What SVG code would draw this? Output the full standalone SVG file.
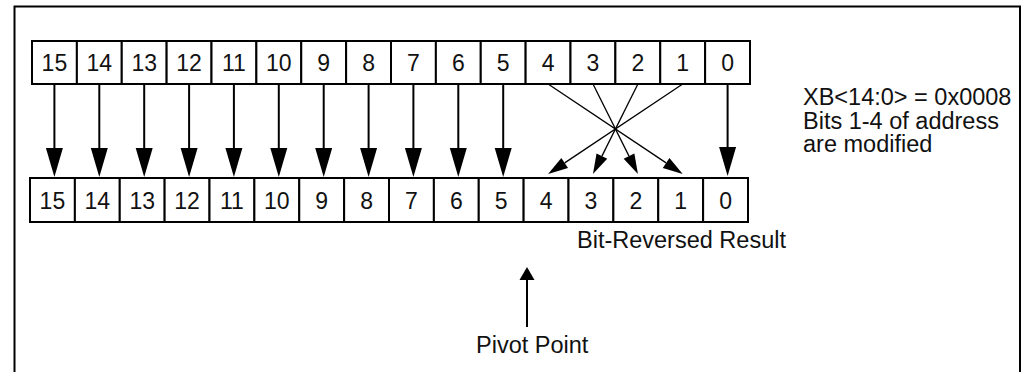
<svg xmlns="http://www.w3.org/2000/svg" width="1024" height="372" viewBox="0 0 1024 372">
<style>
.box{fill:#fff;stroke:#000;stroke-width:2}
.num{font-family:"Liberation Sans",Arial,sans-serif;font-size:23px;text-anchor:middle;fill:#111}
.lbl{font-family:"Liberation Sans",Arial,sans-serif;font-size:23.5px;fill:#111}
.thick{stroke:#000;stroke-width:2;fill:none}
.thin{stroke:#000;stroke-width:1.3;fill:none}
</style>
<defs>
<marker id="big" markerUnits="userSpaceOnUse" markerWidth="29" markerHeight="17" refX="0" refY="8.5" orient="auto" overflow="visible">
<path d="M0,0 L29,8.5 L0,17 Z" fill="#000"/>
</marker>
<marker id="small" markerUnits="userSpaceOnUse" markerWidth="20" markerHeight="12" refX="0" refY="6" orient="auto" overflow="visible">
<path d="M0,0 L20,6 L0,12 Z" fill="#000"/>
</marker>
<marker id="piv" markerUnits="userSpaceOnUse" markerWidth="13" markerHeight="15" refX="0" refY="7.5" orient="auto" overflow="visible">
<path d="M0,0 L13,7.5 L0,15 Z" fill="#000"/>
</marker>
</defs>
<rect id="frame" x="14.5" y="6.5" width="1005.5" height="380" fill="none" stroke="#000" stroke-width="2"/>
<g id="source-register">
<rect class="box" x="32" y="41" width="44.875" height="43"/><text class="num" x="54.4" y="71">15</text>
<rect class="box" x="76.875" y="41" width="44.875" height="43"/><text class="num" x="99.3" y="71">14</text>
<rect class="box" x="121.75" y="41" width="44.875" height="43"/><text class="num" x="144.2" y="71">13</text>
<rect class="box" x="166.625" y="41" width="44.875" height="43"/><text class="num" x="189.1" y="71">12</text>
<rect class="box" x="211.5" y="41" width="44.875" height="43"/><text class="num" x="233.9" y="71">11</text>
<rect class="box" x="256.375" y="41" width="44.875" height="43"/><text class="num" x="278.8" y="71">10</text>
<rect class="box" x="301.25" y="41" width="44.875" height="43"/><text class="num" x="323.7" y="71">9</text>
<rect class="box" x="346.125" y="41" width="44.875" height="43"/><text class="num" x="368.6" y="71">8</text>
<rect class="box" x="391" y="41" width="44.875" height="43"/><text class="num" x="413.4" y="71">7</text>
<rect class="box" x="435.875" y="41" width="44.875" height="43"/><text class="num" x="458.3" y="71">6</text>
<rect class="box" x="480.75" y="41" width="44.875" height="43"/><text class="num" x="503.2" y="71">5</text>
<rect class="box" x="525.625" y="41" width="44.875" height="43"/><text class="num" x="548.1" y="71">4</text>
<rect class="box" x="570.5" y="41" width="44.875" height="43"/><text class="num" x="592.9" y="71">3</text>
<rect class="box" x="615.375" y="41" width="44.875" height="43"/><text class="num" x="637.8" y="71">2</text>
<rect class="box" x="660.25" y="41" width="44.875" height="43"/><text class="num" x="682.7" y="71">1</text>
<rect class="box" x="705.125" y="41" width="44.875" height="43"/><text class="num" x="727.6" y="71">0</text>
</g>
<g id="result-register">
<rect class="box" x="30" y="178" width="44.875" height="44"/><text class="num" x="52.4" y="209">15</text>
<rect class="box" x="74.875" y="178" width="44.875" height="44"/><text class="num" x="97.3" y="209">14</text>
<rect class="box" x="119.75" y="178" width="44.875" height="44"/><text class="num" x="142.2" y="209">13</text>
<rect class="box" x="164.625" y="178" width="44.875" height="44"/><text class="num" x="187.1" y="209">12</text>
<rect class="box" x="209.5" y="178" width="44.875" height="44"/><text class="num" x="231.9" y="209">11</text>
<rect class="box" x="254.375" y="178" width="44.875" height="44"/><text class="num" x="276.8" y="209">10</text>
<rect class="box" x="299.25" y="178" width="44.875" height="44"/><text class="num" x="321.7" y="209">9</text>
<rect class="box" x="344.125" y="178" width="44.875" height="44"/><text class="num" x="366.6" y="209">8</text>
<rect class="box" x="389" y="178" width="44.875" height="44"/><text class="num" x="411.4" y="209">7</text>
<rect class="box" x="433.875" y="178" width="44.875" height="44"/><text class="num" x="456.3" y="209">6</text>
<rect class="box" x="478.75" y="178" width="44.875" height="44"/><text class="num" x="501.2" y="209">5</text>
<rect class="box" x="523.625" y="178" width="44.875" height="44"/><text class="num" x="546.1" y="209">4</text>
<rect class="box" x="568.5" y="178" width="44.875" height="44"/><text class="num" x="590.9" y="209">3</text>
<rect class="box" x="613.375" y="178" width="44.875" height="44"/><text class="num" x="635.8" y="209">2</text>
<rect class="box" x="658.25" y="178" width="44.875" height="44"/><text class="num" x="680.7" y="209">1</text>
<rect class="box" x="703.125" y="178" width="44.875" height="44"/><text class="num" x="725.6" y="209">0</text>
</g>
<g id="connectors">
<line class="thick" x1="54.4" y1="84" x2="54.4" y2="148" marker-end="url(#big)"/>
<line class="thick" x1="99.3" y1="84" x2="99.3" y2="148" marker-end="url(#big)"/>
<line class="thick" x1="144.2" y1="84" x2="144.2" y2="148" marker-end="url(#big)"/>
<line class="thick" x1="189.1" y1="84" x2="189.1" y2="148" marker-end="url(#big)"/>
<line class="thick" x1="233.9" y1="84" x2="233.9" y2="148" marker-end="url(#big)"/>
<line class="thick" x1="278.8" y1="84" x2="278.8" y2="148" marker-end="url(#big)"/>
<line class="thick" x1="323.7" y1="84" x2="323.7" y2="148" marker-end="url(#big)"/>
<line class="thick" x1="368.6" y1="84" x2="368.6" y2="148" marker-end="url(#big)"/>
<line class="thick" x1="413.4" y1="84" x2="413.4" y2="148" marker-end="url(#big)"/>
<line class="thick" x1="458.3" y1="84" x2="458.3" y2="148" marker-end="url(#big)"/>
<line class="thick" x1="503.2" y1="84" x2="503.2" y2="148" marker-end="url(#big)"/>
<line class="thick" x1="727.6" y1="84" x2="727.6" y2="147" marker-end="url(#big)"/>
<line class="thin" x1="548.1" y1="84" x2="666.1" y2="162.9" marker-end="url(#small)"/>
<line class="thin" x1="593.0" y1="84" x2="629.0" y2="156.1" marker-end="url(#small)"/>
<line class="thin" x1="637.9" y1="84" x2="601.9" y2="156.1" marker-end="url(#small)"/>
<line class="thin" x1="682.7" y1="84" x2="564.7" y2="162.9" marker-end="url(#small)"/>
<line class="thick" x1="527" y1="327" x2="527" y2="280" marker-end="url(#piv)"/>
</g>
<g id="note">
<text class="lbl" x="803" y="105">XB&lt;14:0&gt; = 0x0008<tspan x="803" dy="23.5">Bits 1-4 of address</tspan><tspan x="803" dy="23.5">are modified</tspan></text>
</g>
<g id="labels">
<text class="lbl" x="577" y="248">Bit-Reversed Result</text>
<text class="lbl" x="476" y="353">Pivot Point</text>
</g>
</svg>
